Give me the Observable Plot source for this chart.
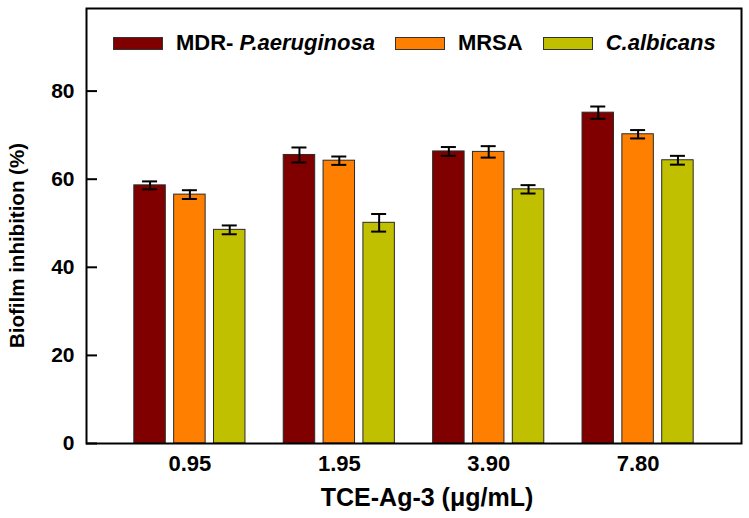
<!DOCTYPE html>
<html>
<head>
<meta charset="utf-8">
<script src="https://cdn.jsdelivr.net/npm/d3@7"></script>
<script src="https://cdn.jsdelivr.net/npm/@observablehq/plot@0.6"></script>
<style>
  html, body { margin: 0; padding: 0; background: #fff; }
  #wrap { position: relative; width: 749px; height: 518px; font-family: "Liberation Sans", Arial, sans-serif; }
  #legend { position: absolute; left: 113px; top: 30px; display: flex; align-items: center; font-size: 22px; font-weight: bold; color: #000; white-space: nowrap; }
  #legend .item { display: flex; align-items: center; margin-right: 20px; }
  #legend .sw { width: 48px; height: 11px; border: 1px solid #333; margin-right: 13px; }
</style>
</head>
<body>
<div id="wrap"><div id="legend"></div></div>
<script>
// ---- data ----
const groups = ["0.95", "1.95", "3.90", "7.80"];
const series = ["MDR- P.aeruginosa", "MRSA", "C.albicans"];
const mdrValues = [58.6, 65.5, 66.3, 75.1];
const mrsaValues = [56.5, 64.2, 66.2, 70.2];
const calbValues = [48.5, 50.1, 57.7, 64.3];
const mdrErrors = [0.9, 1.7, 1.0, 1.4];
const mrsaErrors = [1.0, 0.95, 1.3, 0.95];
const calbErrors = [1.0, 2.0, 0.95, 1.0];
const colors = ["#800000", "#FF8000", "#C0C000"];
const yTicks = [0, 20, 40, 60, 80];
const xTitle = "TCE-Ag-3 (μg/mL)";
const yTitle = "Biofilm inhibition (%)";

const valueSets = [mdrValues, mrsaValues, calbValues];
const errorSets = [mdrErrors, mrsaErrors, calbErrors];
const data = [];
series.forEach((s, si) => groups.forEach((g, gi) => data.push({group: g, series: s, value: valueSets[si][gi], err: errorSets[si][gi]})));

// ---- layout ----
const W = 749, H = 518, ML = 86, MR = 8, MT = 8, MB = 75;
const xInset = 3, pInner = 0.256, pOuter = 0.3;
const innerW = W - ML - MR - 2 * xInset;
const gStep = innerW / (groups.length - pInner + 2 * pOuter);
const B = gStep * (1 - pInner);
const sub = d3.scaleBand(series, [0, B]).paddingInner(0.21).paddingOuter(0);
const capHalf = 7.5;
const font = "Liberation Sans, Arial, sans-serif";

const marks = [];
for (const s of series) {
  const rows = data.filter(d => d.series === s);
  const off = sub(s), bw = sub.bandwidth();
  marks.push(Plot.barY(rows, {x: "group", y: "value", fill: "series", stroke: "#2a2a2a", strokeWidth: 1, insetLeft: off, insetRight: B - off - bw}));
}
for (const s of series) {
  const rows = data.filter(d => d.series === s);
  const c = sub(s) + sub.bandwidth() / 2;
  marks.push(Plot.ruleX(rows, {x: "group", y1: d => d.value - d.err, y2: d => d.value + d.err, dx: c - B / 2, stroke: "#000", strokeWidth: 2}));
  marks.push(Plot.tickY(rows, {x: "group", y: d => d.value + d.err, insetLeft: c - capHalf, insetRight: B - c - capHalf, stroke: "#000", strokeWidth: 2}));
  marks.push(Plot.tickY(rows, {x: "group", y: d => d.value - d.err, insetLeft: c - capHalf, insetRight: B - c - capHalf, stroke: "#000", strokeWidth: 2}));
}
// inward y ticks
marks.push(Plot.tickY(yTicks, {y: d => d, insetRight: W - ML - MR - 11, stroke: "#000", strokeWidth: 2}));
marks.push(Plot.axisY({ticks: yTicks, tickSize: 0, tickPadding: 12, fontSize: 21, fontWeight: "bold", label: null, fill: "#000"}));
marks.push(Plot.axisX({tickSize: 0, tickPadding: 12, fontSize: 22, fontWeight: "bold", label: null, fill: "#000"}));
marks.push(Plot.text([xTitle], {text: d => d, frameAnchor: "bottom", lineAnchor: "top", textAnchor: "middle", dy: 45, dx: 13, fontSize: 25, fontWeight: "bold", fill: "#000"}));
marks.push(Plot.text([yTitle], {text: d => d, frameAnchor: "left", lineAnchor: "top", textAnchor: "middle", rotate: -90, dx: -77, dy: 19.5, fontSize: 20.5, fontWeight: "bold", fill: "#000"}));
marks.push(Plot.frame({stroke: "#000", strokeWidth: 2}));

const chart = Plot.plot({
  width: W, height: H,
  marginLeft: ML, marginRight: MR, marginTop: MT, marginBottom: MB,
  style: {fontFamily: font, background: "#fff", overflow: "visible"},
  x: {type: "band", domain: groups, paddingInner: pInner, paddingOuter: pOuter, insetLeft: xInset, insetRight: xInset, round: false, label: null, axis: null},
  y: {domain: [0, 98.75], label: null, axis: null},
  color: {domain: series, range: colors},
  marks
});
const wrap = document.getElementById("wrap");
wrap.insertBefore(chart, wrap.firstChild);

// legend
const legend = document.getElementById("legend");
const legendHtml = [
  'MDR- <i>P.aeruginosa</i>',
  'MRSA',
  '<i>C.albicans</i>'
];
series.forEach((s, i) => {
  const item = document.createElement("div");
  item.className = "item";
  item.innerHTML = `<span class="sw" style="background:${colors[i]}"></span><span>${legendHtml[i]}</span>`;
  legend.appendChild(item);
});
</script>
</body>
</html>
